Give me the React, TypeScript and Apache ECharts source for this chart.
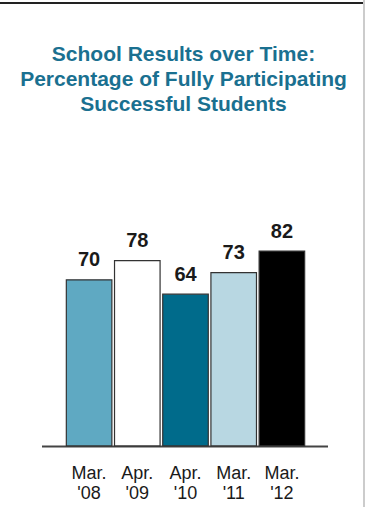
import React, { useEffect, useRef } from "react";
import * as echarts from "echarts";

const categories = ["Mar.\n'08", "Apr.\n'09", "Apr.\n'10", "Mar.\n'11", "Mar.\n'12"];
const values = [70, 78, 64, 73, 82];
const barColors = ["#5fa9c2", "#ffffff", "#006b8b", "#b8d7e2", "#000000"];
const titleText = "School Results over Time:\nPercentage of Fully Participating\nSuccessful Students";

const FONT = "'Liberation Sans', Arial, Helvetica, sans-serif";

export default function App() {
  const ref = useRef<HTMLDivElement>(null);
  useEffect(() => {
    if (!ref.current) return;
    const chart = echarts.init(ref.current, undefined, { renderer: "svg" });
    chart.setOption({
      animation: false,
      backgroundColor: "#ffffff",
      title: {
        text: titleText,
        left: "center",
        top: 36,
        textStyle: {
          fontFamily: FONT,
          fontSize: 21,
          fontWeight: "bold",
          lineHeight: 25,
          color: "#1a7090",
        },
      },
      grid: { left: 65, right: 61, top: 207.5, bottom: 60.5 },
      xAxis: {
        type: "category",
        data: categories,
        axisLine: { show: false },
        axisTick: { show: false },
        axisLabel: {
          fontFamily: FONT,
          fontSize: 18,
          lineHeight: 20,
          color: "#1a1a1a",
          margin: 16,
          interval: 0,
        },
      },
      yAxis: {
        type: "value",
        min: 0,
        max: 100,
        show: false,
        splitLine: { show: false },
      },
      series: [
        {
          type: "bar",
          data: values.map((v, i) => ({ value: v, itemStyle: { color: barColors[i] } })),
          barCategoryGap: "3%",
          itemStyle: { borderColor: "#333333", borderWidth: 1.2 },
          label: {
            show: true,
            position: "top",
            distance: 10,
            fontFamily: FONT,
            fontSize: 20,
            fontWeight: "bold",
            color: "#1a1a1a",
          },
        },
      ],
      graphic: [
        { type: "rect", shape: { x: 0, y: 2, width: 364, height: 2 }, style: { fill: "#222222" } },
        { type: "rect", shape: { x: 363, y: 0, width: 2, height: 507 }, style: { fill: "#cccccc" } },
        { type: "line", shape: { x1: 42, y1: 446.5, x2: 328, y2: 446.5 }, style: { stroke: "#444444", lineWidth: 2 } },
      ],
    });
    return () => chart.dispose();
  }, []);
  return (
    <div
      ref={ref}
      style={{ position: "fixed", left: 0, top: 0, width: 367, height: 507 }}
    />
  );
}
